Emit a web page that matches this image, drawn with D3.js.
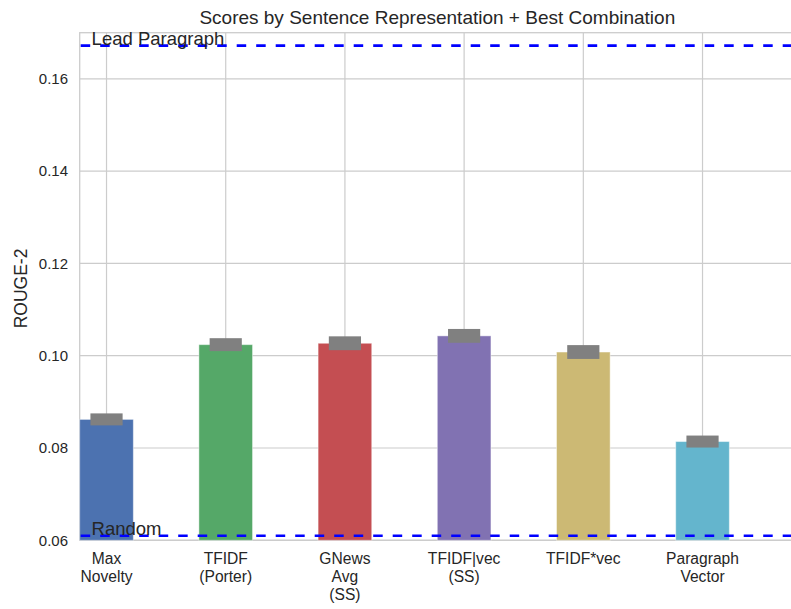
<!DOCTYPE html>
<html><head><meta charset="utf-8">
<script src="https://cdn.jsdelivr.net/npm/d3@7"></script>
<style>body{margin:0;background:#fff}svg{display:block;font-family:"Liberation Sans",Arial,sans-serif}</style>
</head><body><svg id="c" width="791" height="609"></svg>
<script>
const categories = ["Max\nNovelty", "TFIDF\n(Porter)", "GNews\nAvg\n(SS)", "TFIDF|vec\n(SS)", "TFIDF*vec", "Paragraph\nVector"];
const scores = [0.0862, 0.1024, 0.1027, 0.1043, 0.1008, 0.0814];
const errors = [0.0013, 0.0014, 0.0015, 0.0015, 0.0015, 0.0013];
const colors = ["#4C72B0", "#55A868", "#C44E52", "#8172B2", "#CCB974", "#64B5CD"];
const yTicks = [0.06, 0.08, 0.10, 0.12, 0.14, 0.16];
const refLines = [{label: "Lead Paragraph", value: 0.1672}, {label: "Random", value: 0.0610}];
const title = "Scores by Sentence Representation + Best Combination";
const yLabel = "ROUGE-2";

const svg = d3.select("#c");
const L = 79.7, T = 32.7, B = 540.3, R = 794.9;
const x = d3.scaleLinear().domain([-0.225, 5.775]).range([L, R]);
const y = d3.scaleLinear().domain([0.06, 0.17]).range([B, T]);
const barW = 0.45, errW = 0.27;
const grid = "#cccccc", txt = "#262626";

// horizontal grid
svg.append("g").selectAll("line").data(yTicks).join("line")
  .attr("x1", L).attr("x2", R).attr("y1", d => y(d)).attr("y2", d => y(d))
  .attr("stroke", grid).attr("stroke-width", 1.2);
// vertical grid
svg.append("g").selectAll("line").data(categories).join("line")
  .attr("x1", (d, i) => x(i)).attr("x2", (d, i) => x(i)).attr("y1", T).attr("y2", B)
  .attr("stroke", grid).attr("stroke-width", 1.2);
// frame
svg.append("rect").attr("x", L).attr("y", T).attr("width", R - L).attr("height", B - T)
  .attr("fill", "none").attr("stroke", grid).attr("stroke-width", 1.3);

// bars
svg.append("g").selectAll("rect").data(scores).join("rect")
  .attr("x", (d, i) => x(i - barW / 2)).attr("width", x(barW) - x(0))
  .attr("y", d => y(d)).attr("height", d => y(0.06) - y(d))
  .attr("fill", (d, i) => colors[i])
  .attr("stroke", "rgba(255,255,255,0.45)").attr("stroke-width", 1);
// error boxes
svg.append("g").selectAll("rect").data(scores).join("rect")
  .attr("x", (d, i) => x(i - errW / 2)).attr("width", x(errW) - x(0))
  .attr("y", (d, i) => y(d + errors[i])).attr("height", (d, i) => y(d - errors[i]) - y(d + errors[i]))
  .attr("fill", "#808080");

// reference lines
svg.append("g").selectAll("line").data(refLines).join("line")
  .attr("x1", L).attr("x2", R).attr("y1", d => y(d.value)).attr("y2", d => y(d.value))
  .attr("stroke", "#0000ff").attr("stroke-width", 2.6).attr("stroke-dasharray", "9.5,10")
  .attr("stroke-dashoffset", -1);
svg.append("g").selectAll("text").data(refLines).join("text")
  .attr("x", x(-0.125)).attr("y", d => y(d.value) - 1)
  .attr("fill", txt).attr("font-size", 18.5).text(d => d.label);

// y tick labels
svg.append("g").selectAll("text").data(yTicks).join("text")
  .attr("x", 68).attr("y", d => y(d)).attr("dy", "0.35em").attr("text-anchor", "end")
  .attr("fill", txt).attr("font-size", 15).text(d3.format(".2f"));

// x labels
const xl = svg.append("g").selectAll("text").data(categories).join("text")
  .attr("x", (d, i) => x(i)).attr("y", 564).attr("text-anchor", "middle")
  .attr("fill", txt).attr("font-size", 15.6);
xl.each(function(d, i) {
  d.split("\n").forEach((s, k) => {
    d3.select(this).append("tspan").attr("x", x(i)).attr("dy", k === 0 ? 0 : 17.8).text(s);
  });
});

// title
svg.append("text").attr("x", (L + R) / 2).attr("y", 24.3).attr("text-anchor", "middle")
  .attr("fill", txt).attr("font-size", 19).text(title);
// y label
svg.append("text").attr("transform", `translate(26.5,${(T + B) / 2 + 2}) rotate(-90)`)
  .attr("text-anchor", "middle").attr("fill", txt).attr("font-size", 17.5).text(yLabel);
</script></body></html>
